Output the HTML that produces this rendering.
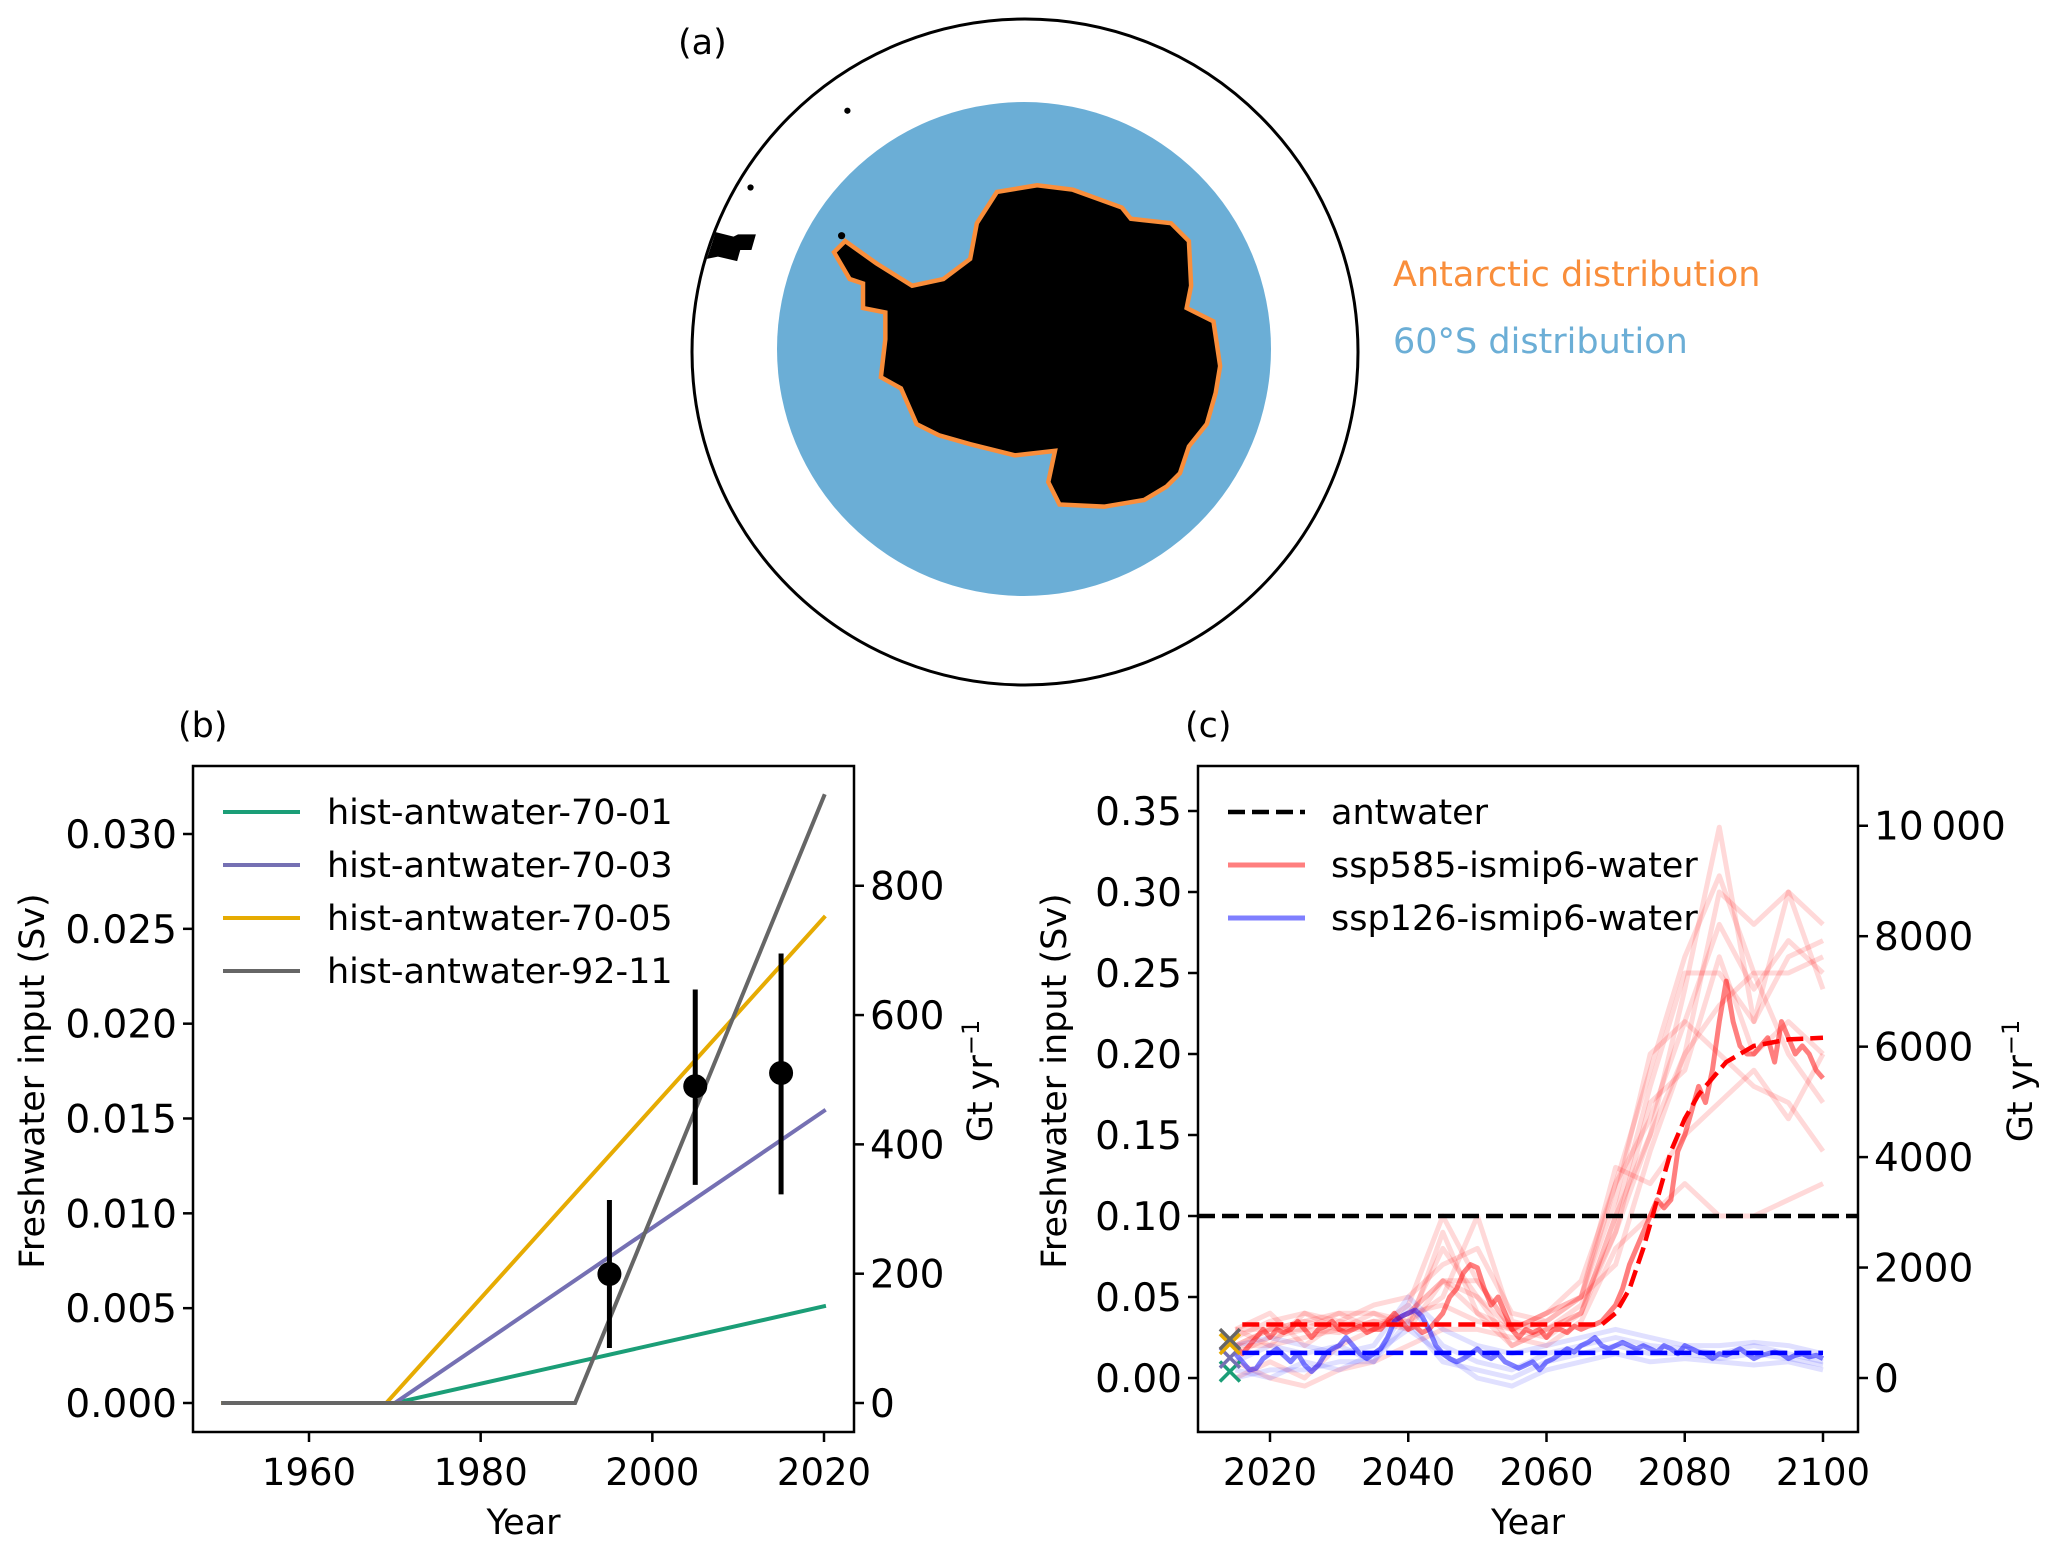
<!DOCTYPE html>
<html><head><meta charset="utf-8"><style>
html,body{margin:0;padding:0;background:#fff;}
svg{display:block;font-family:"DejaVu Sans","Liberation Sans",sans-serif;}
</style></head><body>
<svg id="fig" width="2067" height="1552" viewBox="0 0 2067 1552" xmlns="http://www.w3.org/2000/svg">
<g id="panelA">
  <text x="678" y="54" font-size="35">(a)</text>
  <circle cx="1025" cy="352" r="333" fill="none" stroke="#000" stroke-width="3"/>
  <circle cx="1024" cy="349" r="247" fill="#6baed6"/>
  <g transform="translate(680,0) scale(0.4464)">
    <polygon fill="#000" stroke="#f98e3b" stroke-width="10" stroke-linejoin="miter"
      points="370,540 440,590 520,640 590,625 650,580 665,500 710,430 800,415 880,425 990,465 1010,490 1100,500 1140,540 1145,640 1135,690 1195,720 1210,820 1200,880 1180,950 1140,1000 1120,1060 1090,1090 1040,1120 950,1135 850,1130 825,1080 840,1010 750,1020 650,995 580,975 530,950 495,870 450,845 460,760 460,700 410,690 410,635 380,625 345,565"/>
    <polygon fill="#000" points="80,520 120,530 130,525 170,525 160,560 135,560 128,585 85,575 60,580"/>
    <circle cx="375" cy="248" r="7" fill="#000"/>
    <circle cx="158" cy="420" r="7" fill="#000"/>
    <circle cx="362" cy="528" r="8" fill="#000"/>
  </g>
  <text x="1393" y="286" font-size="35" fill="#f98e3b">Antarctic distribution</text>
  <text x="1393" y="353" font-size="35" fill="#6baed6">60°S distribution</text>
</g>
<g id="panelB"></g>
<g id="panelC"></g>
</svg>
<script>
// ---------- Panel B data ----------
const bSeriesNames = ["hist-antwater-70-01","hist-antwater-70-03","hist-antwater-70-05","hist-antwater-92-11"];
const bSeriesColors = ["#1b9e77","#7570b3","#e6ab02","#666666"];
const bYears01 = [1950,1970,2020];
const bVals01 = [0,0,0.0051];
const bYears03 = [1950,1970,2020];
const bVals03 = [0,0,0.0154];
const bYears05 = [1950,1969,2020];
const bVals05 = [0,0,0.0256];
const bYears92 = [1950,1991,2020];
const bVals92 = [0,0,0.032];
const obsYears = [1995,2005,2015];
const obsVals = [0.0068,0.0167,0.0174];
const obsLow = [0.0029,0.0115,0.0110];
const obsHigh = [0.0107,0.0218,0.0237];
const bXTicks = [1960,1980,2000,2020];
const bYTicks = [0,0.005,0.010,0.015,0.020,0.025,0.030];
const bYTickLabels = ["0.000","0.005","0.010","0.015","0.020","0.025","0.030"];
const bGtTicks = [0,200,400,600,800];
const bGtTickLabels = ["0","200","400","600","800"];

// ---------- Panel C data ----------
const cRedMean = [0.02,0.015,0.02,0.025,0.03,0.025,0.03,0.028,0.03,0.035,0.03,0.025,0.03,0.032,0.035,0.03,0.028,0.03,0.032,0.028,0.03,0.03,0.035,0.04,0.035,0.03,0.032,0.028,0.03,0.035,0.04,0.05,0.055,0.065,0.07,0.068,0.055,0.045,0.05,0.04,0.03,0.025,0.03,0.028,0.03,0.025,0.03,0.03,0.028,0.032,0.03,0.032,0.033,0.035,0.04,0.045,0.055,0.07,0.08,0.09,0.1,0.11,0.105,0.11,0.14,0.15,0.165,0.18,0.17,0.19,0.22,0.245,0.22,0.205,0.2,0.2,0.205,0.21,0.195,0.22,0.21,0.2,0.205,0.2,0.19,0.185];
const cBlueMean = [0.015,0.01,0.005,0.006,0.012,0.015,0.018,0.014,0.01,0.015,0.008,0.004,0.008,0.015,0.018,0.02,0.025,0.02,0.015,0.012,0.015,0.018,0.025,0.035,0.038,0.04,0.042,0.038,0.03,0.02,0.015,0.012,0.01,0.012,0.015,0.018,0.014,0.012,0.015,0.01,0.008,0.006,0.008,0.01,0.005,0.01,0.012,0.015,0.018,0.016,0.02,0.022,0.025,0.02,0.018,0.02,0.022,0.02,0.018,0.02,0.018,0.016,0.02,0.018,0.015,0.02,0.018,0.016,0.015,0.012,0.015,0.014,0.016,0.018,0.015,0.012,0.014,0.015,0.016,0.015,0.012,0.014,0.015,0.013,0.014,0.012];
const cRedDashYears = [2016,2068,2070,2072,2074,2076,2078,2080,2082,2084,2086,2088,2090,2095,2100];
const cRedDashVals = [0.033,0.033,0.04,0.055,0.08,0.11,0.14,0.16,0.175,0.185,0.195,0.2,0.205,0.209,0.21];
const cBlueDashYears = [2016,2100];
const cBlueDashVals = [0.0155,0.0155];
const cAntwaterVal = 0.1;
const cMemberYears = [2015,2020,2025,2030,2035,2040,2045,2050,2055,2060,2065,2070,2075,2080,2085,2090,2095,2100];
const cRed1 = [0.02,0.03,0.035,0.03,0.04,0.03,0.09,0.04,0.03,0.04,0.05,0.07,0.14,0.2,0.3,0.28,0.3,0.28];
const cRed2 = [0.03,0.04,0.02,0.035,0.03,0.04,0.06,0.05,0.02,0.03,0.04,0.1,0.18,0.25,0.25,0.22,0.26,0.27];
const cRed3 = [0.01,0.0,-0.005,0.005,0.01,0.02,0.03,0.03,0.025,0.02,0.035,0.08,0.1,0.12,0.1,0.1,0.11,0.12];
const cRed4 = [0.02,0.03,0.03,0.04,0.03,0.045,0.1,0.06,0.03,0.04,0.06,0.12,0.16,0.22,0.2,0.18,0.17,0.14];
const cRed5 = [0.03,0.02,0.04,0.03,0.035,0.03,0.06,0.04,0.02,0.03,0.04,0.09,0.15,0.24,0.34,0.22,0.3,0.24];
const cRed6 = [0.0,0.01,0.0,0.02,0.03,0.04,0.045,0.035,0.03,0.035,0.05,0.13,0.12,0.15,0.17,0.19,0.16,0.2];
const cRed7 = [0.025,0.035,0.04,0.035,0.045,0.05,0.07,0.08,0.04,0.035,0.05,0.11,0.2,0.22,0.28,0.24,0.27,0.25];
const cRed8 = [0.015,0.025,0.03,0.028,0.035,0.035,0.05,0.1,0.035,0.03,0.045,0.09,0.17,0.19,0.26,0.2,0.22,0.2];
const cRed9 = [0.02,0.02,0.025,0.03,0.03,0.04,0.06,0.06,0.03,0.025,0.04,0.1,0.15,0.2,0.23,0.25,0.2,0.17];
const cRed10 = [0.03,0.03,0.035,0.04,0.04,0.035,0.08,0.05,0.03,0.04,0.05,0.12,0.19,0.26,0.31,0.25,0.25,0.26];
const cBlue1 = [0.01,0.02,0.015,0.02,0.01,0.045,0.02,0.01,0.005,0.015,0.02,0.025,0.02,0.018,0.015,0.02,0.015,0.01];
const cBlue2 = [0.005,0.0,0.01,0.005,0.015,0.03,0.015,0.0,-0.005,0.005,0.01,0.015,0.01,0.012,0.01,0.008,0.01,0.005];
const cBlue3 = [0.02,0.025,0.02,0.015,0.02,0.05,0.03,0.02,0.015,0.02,0.025,0.03,0.025,0.02,0.02,0.022,0.02,0.015];
const cBlue4 = [0.0,0.005,0.005,0.01,0.01,0.035,0.01,0.005,0.0,0.01,0.015,0.02,0.015,0.015,0.012,0.015,0.012,0.008];
const cCrossYear = 2014.2;
const cCrossVals = [0.004,0.0125,0.021,0.024];
const cXTicks = [2020,2040,2060,2080,2100];
const cYTicks = [0,0.05,0.10,0.15,0.20,0.25,0.30,0.35];
const cYTickLabels = ["0.00","0.05","0.10","0.15","0.20","0.25","0.30","0.35"];
const cGtTicks = [0,2000,4000,6000,8000,10000];
const cGtTickLabels = ["0","2000","4000","6000","8000","10\u2009000"];
const gtToSv = 3.409e-5;

const NS = "http://www.w3.org/2000/svg";
function mk(parent, tag, attrs, txt){
  const e = document.createElementNS(NS, tag);
  for (const k in attrs) e.setAttribute(k, attrs[k]);
  if (txt !== undefined) e.textContent = txt;
  parent.appendChild(e); return e;
}
function linear(d0,d1,r0,r1){ return v => r0 + (v-d0)*(r1-r0)/(d1-d0); }
function pathD(xs, ys, sx, sy){ return xs.map((x,i)=>(i?"L":"M")+sx(x).toFixed(1)+","+sy(ys[i]).toFixed(1)).join(""); }

function axesFrame(g, L, T, R, B, sx, sy, xt, yt, ytl, gt, gtl, cfg){
  const fs = 35, yfs = 39, xfs = 37;
  xt.forEach(v=>{
    const t = mk(g,"line",{x1:sx(v),x2:sx(v),y1:B,y2:B+10,stroke:"#000","stroke-width":2.5});
    
    
    const l = mk(g,"text",{x:sx(v),y:B+53,"font-size":xfs,"text-anchor":"middle"},String(v));
    
    
  });
  yt.forEach((v,i)=>{
    const t = mk(g,"line",{x1:L-10,x2:L,y1:sy(v),y2:sy(v),stroke:"#000","stroke-width":2.5});
    
    
    const l = mk(g,"text",{x:L-16,y:sy(v)+14,"font-size":yfs,"text-anchor":"end"},ytl[i]);
    
    
  });
  gt.forEach((v,i)=>{
    const y = sy(v*gtToSv);
    const t = mk(g,"line",{x1:R,x2:R+10,y1:y,y2:y,stroke:"#000","stroke-width":2.5});
    
    
    const l = mk(g,"text",{x:R+16,y:y+14,"font-size":yfs},gtl[i]);
    
    
  });
  const fr = mk(g,"rect",{x:L,y:T,width:R-L,height:B-T,fill:"none",stroke:"#000","stroke-width":2.5});
  
  
  const xl = mk(g,"text",{x:(L+R)/2,y:1534,"font-size":fs,"text-anchor":"middle"},"Year");
  
  
  const yl = mk(g,"text",{x:0,y:0,"font-size":fs,"text-anchor":"middle",transform:`translate(${cfg.ylx},1081) rotate(-90)`},"Freshwater input (Sv)");
  
  
  const ry = mk(g,"text",{x:0,y:0,"font-size":fs,"text-anchor":"middle",transform:`translate(${cfg.rlx},1081) rotate(-90)`});
  
  
  mk(ry,"tspan",{},"Gt yr");
  mk(ry,"tspan",{dy:-13,"font-size":24},"\u22121");
  const pl = mk(g,"text",{x:cfg.plx,y:737,"font-size":fs},cfg.label);
  
  
}

// ---------- Draw Panel B ----------
(function(){
  const g = document.getElementById("panelB");
  const L=193,R=854,T=766,B=1432;
  const sx = linear(1960,2020,309,824);
  const sy = linear(0,0.030,1403,834);
  const yrs=[bYears01,bYears03,bYears05,bYears92], vals=[bVals01,bVals03,bVals05,bVals92];
  yrs.forEach((ys,i)=>{
    const p = mk(g,"path",{d:pathD(ys,vals[i],sx,sy),fill:"none",stroke:bSeriesColors[i],"stroke-width":4,"stroke-linecap":"square"});
    
    
  });
  obsYears.forEach((y,i)=>{
    const e = mk(g,"line",{x1:sx(y),x2:sx(y),y1:sy(obsLow[i]),y2:sy(obsHigh[i]),stroke:"#000","stroke-width":5});
    
    
    const c = mk(g,"circle",{cx:sx(y),cy:sy(obsVals[i]),r:12,fill:"#000"});
    
    
  });
  axesFrame(g,L,T,R,B,sx,sy,bXTicks,bYTicks,bYTickLabels,bGtTicks,bGtTickLabels,{ylx:44,rlx:992,plx:178,label:"(b)"});
  const leg = mk(g,"g",{});
  
  
  bSeriesNames.forEach((n,i)=>{
    const y = 812 + i*53;
    const ln = mk(leg,"line",{x1:223,x2:300,y1:y,y2:y,stroke:bSeriesColors[i],"stroke-width":4});
    
    
    const t = mk(leg,"text",{x:327,y:y+12,"font-size":35},n);
    
    
  });
})();

// ---------- Draw Panel C ----------
(function(){
  const g = document.getElementById("panelC");
  const L=1198,R=1858,T=766,B=1432;
  const sx = linear(2020,2100,1270,1823);
  const sy = linear(0,0.35,1378,811);
  const clip = mk(g,"clipPath",{id:"clipC"});
  mk(clip,"rect",{x:L,y:T,width:R-L,height:B-T});
  const plot = mk(g,"g",{"clip-path":"url(#clipC)"});
  const meanYears = cRedMean.map((_,i)=>2015+i);
  const blueYears = cBlueMean.map((_,i)=>2015+i);
  [cRed1,cRed2,cRed3,cRed4,cRed5,cRed6,cRed7,cRed8,cRed9,cRed10].forEach(m=>{
    const p = mk(plot,"path",{d:pathD(cMemberYears,m,sx,sy),fill:"none",stroke:"#ff0000","stroke-opacity":0.15,"stroke-width":5,"stroke-linejoin":"round"});
    
    
  });
  [cBlue1,cBlue2,cBlue3,cBlue4].forEach(m=>{
    const p = mk(plot,"path",{d:pathD(cMemberYears,m,sx,sy),fill:"none",stroke:"#0000ff","stroke-opacity":0.12,"stroke-width":5,"stroke-linejoin":"round"});
    
    
  });
  const rm = mk(plot,"path",{d:pathD(meanYears,cRedMean,sx,sy),fill:"none",stroke:"#ff0000","stroke-opacity":0.5,"stroke-width":5,"stroke-linejoin":"round"});
  
  
  const bm = mk(plot,"path",{d:pathD(blueYears,cBlueMean,sx,sy),fill:"none",stroke:"#0000ff","stroke-opacity":0.5,"stroke-width":5,"stroke-linejoin":"round"});
  
  
  const aw = mk(plot,"line",{x1:L,x2:R,y1:sy(cAntwaterVal),y2:sy(cAntwaterVal),stroke:"#000","stroke-width":4.5,"stroke-dasharray":"17,7"});
  
  
  const rd = mk(plot,"path",{d:pathD(cRedDashYears,cRedDashVals,sx,sy),fill:"none",stroke:"#ff0000","stroke-width":4.5,"stroke-dasharray":"17,7"});
  
  
  const bd = mk(plot,"path",{d:pathD(cBlueDashYears,cBlueDashVals,sx,sy),fill:"none",stroke:"#0000ff","stroke-width":4.5,"stroke-dasharray":"17,7"});
  
  
  cCrossVals.forEach((v,i)=>{
    const cx=sx(cCrossYear), cy=sy(v), s=10;
    const c = mk(g,"path",{d:`M${cx-s},${cy-s}L${cx+s},${cy+s}M${cx-s},${cy+s}L${cx+s},${cy-s}`,stroke:bSeriesColors[i],"stroke-width":3.5,fill:"none"});
    
    
  });
  axesFrame(g,L,T,R,B,sx,sy,cXTicks,cYTicks,cYTickLabels,cGtTicks,cGtTickLabels,{ylx:1066,rlx:2032,plx:1185,label:"(c)"});
  const leg = mk(g,"g",{});
  
  
  const names=["antwater","ssp585-ismip6-water","ssp126-ismip6-water"];
  const cols=["#000","#ff0000","#0000ff"], ops=[1,0.5,0.5], dash=["17,7","none","none"];
  names.forEach((n,i)=>{
    const y = 812 + i*53;
    const ln = mk(leg,"line",{x1:1228,x2:1305,y1:y,y2:y,stroke:cols[i],"stroke-opacity":ops[i],"stroke-width":i?5:4.5,"stroke-dasharray":dash[i]});
    
    
    const t = mk(leg,"text",{x:1331,y:y+12,"font-size":35},n);
    
    
  });
})();
</script>
</body></html>
